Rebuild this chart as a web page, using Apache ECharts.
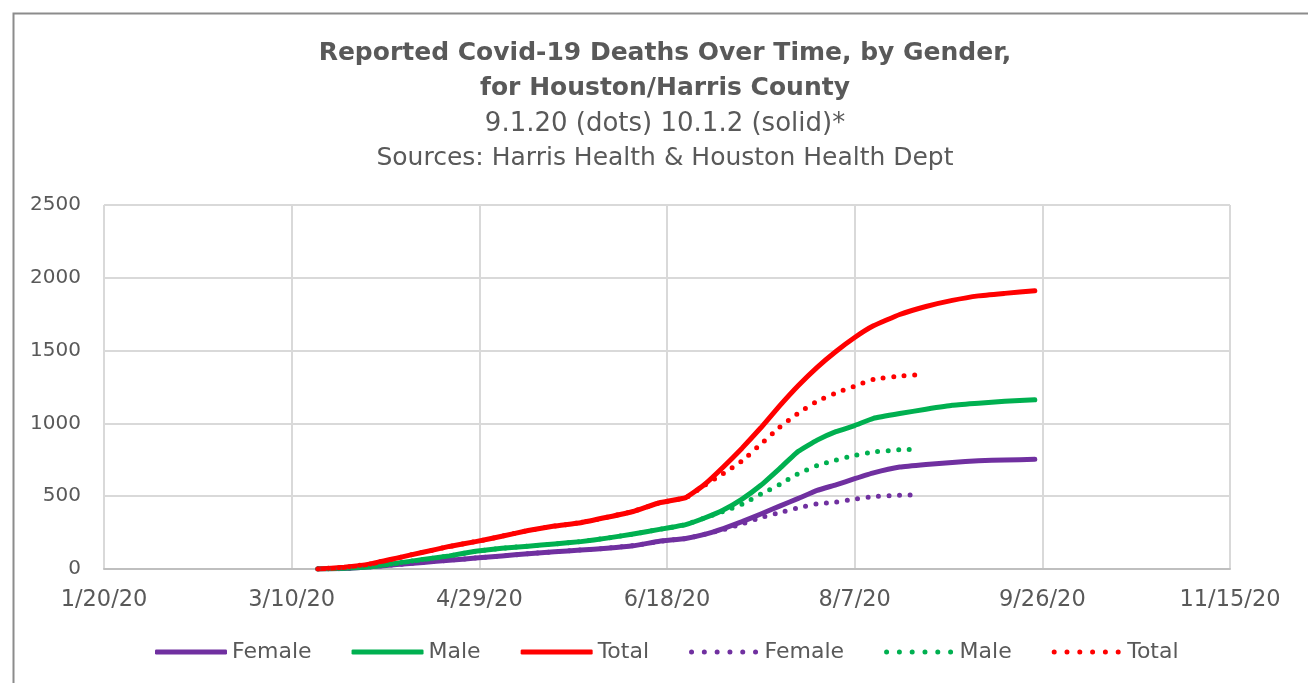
<!DOCTYPE html>
<html>
<head>
<meta charset="utf-8">
<script src="https://cdn.jsdelivr.net/npm/echarts@6/dist/echarts.min.js"></script>
<style>
  html, body { margin: 0; padding: 0; background: #fff; }
  #main { width: 1308px; height: 683px; }
</style>
</head>
<body>
<div id="main"></div>
<script>
// 10.1.20 report (solid lines)
const octDates = ['2020-03-17', '2020-03-24', '2020-03-31', '2020-04-07', '2020-04-14', '2020-04-21',
  '2020-04-28', '2020-05-05', '2020-05-12', '2020-05-19', '2020-05-26', '2020-06-02', '2020-06-09',
  '2020-06-16', '2020-06-23', '2020-06-28', '2020-07-03', '2020-07-08', '2020-07-13', '2020-07-18',
  '2020-07-23', '2020-07-28', '2020-08-02', '2020-08-07', '2020-08-12', '2020-08-19', '2020-08-26',
  '2020-09-02', '2020-09-09', '2020-09-16', '2020-09-24'];
const femaleOct = [0, 3, 15, 30, 45, 60, 75, 90, 105, 118, 130, 143, 160, 190, 210, 238, 278, 325, 378,
  432, 485, 540, 578, 620, 660, 700, 718, 732, 744, 749, 753];
const maleOct = [0, 5, 15, 40, 65, 90, 122, 143, 157, 172, 188, 212, 240, 272, 305, 350, 405, 480, 575,
  690, 808, 885, 943, 985, 1035, 1068, 1097, 1124, 1138, 1152, 1162];
const totalOct = [0, 12, 35, 75, 115, 155, 188, 225, 264, 295, 318, 355, 395, 455, 490, 580, 700, 830, 970,
  1120, 1260, 1385, 1494, 1590, 1670, 1748, 1803, 1845, 1876, 1893, 1911];

// 9.1.20 report (dotted lines)
const sepDates = ['2020-03-17', '2020-03-24', '2020-03-31', '2020-04-07', '2020-04-14', '2020-04-21',
  '2020-04-28', '2020-05-05', '2020-05-12', '2020-05-19', '2020-05-26', '2020-06-02', '2020-06-09',
  '2020-06-16', '2020-06-23', '2020-06-28', '2020-07-03', '2020-07-08', '2020-07-13', '2020-07-18',
  '2020-07-23', '2020-07-28', '2020-08-02', '2020-08-07', '2020-08-12', '2020-08-19', '2020-08-23'];
const femaleSep = [0, 3, 15, 30, 45, 60, 75, 90, 105, 118, 130, 143, 160, 190, 210, 238, 270, 310, 353,
  387, 421, 447, 460, 480, 497, 507, 509];
const maleSep = [0, 5, 15, 40, 65, 90, 122, 143, 157, 172, 188, 212, 240, 272, 305, 350, 395, 445, 514,
  580, 656, 710, 748, 780, 804, 819, 822];
const totalSep = [0, 12, 35, 75, 115, 155, 188, 225, 264, 295, 318, 355, 395, 455, 490, 575, 655, 742, 858,
  973, 1071, 1152, 1209, 1256, 1302, 1325, 1333];

// x axis: days since 1/20/20, ticks every 50 days
const xTicks = [0, 50, 100, 150, 200, 250, 300];

const FONT = 'DejaVu Sans';
const TEXT = '#595959';
const T0 = Date.UTC(2020, 0, 20);
const DAY = 86400000;

function toDay(s) {
  return (Date.parse(s + 'T00:00:00Z') - T0) / DAY;
}
function pairs(dates, vals) {
  return dates.map((d, i) => [toDay(d), vals[i]]);
}
function dayLabel(v) {
  const d = new Date(T0 + v * DAY);
  return (d.getUTCMonth() + 1) + '/' + d.getUTCDate() + '/' + String(d.getUTCFullYear()).slice(2);
}

// legend icon for the dotted series: a row of round dots in a 72x5 box
let dotPath = 'path://';
for (let i = 0; i < 6; i++) {
  const cx = 4 + i * 12.8, r = 2.5;
  dotPath += 'M' + (cx - r) + ',2.5a' + r + ',' + r + ' 0 1,0 ' + (2 * r) + ',0a' + r + ',' + r + ' 0 1,0 ' + (-2 * r) + ',0Z';
}

function solid(name, color, dates, vals) {
  return {
    name: name, type: 'line', symbol: 'none', smooth: 0.1,
    lineStyle: { color: color, width: 5, cap: 'round', join: 'round' },
    itemStyle: { color: color },
    data: pairs(dates, vals)
  };
}
function dotted(name, color, dates, vals) {
  return {
    name: name, type: 'line', symbol: 'none', smooth: 0.1,
    lineStyle: { color: color, width: 5, type: [0, 10.5], cap: 'round' },
    itemStyle: { color: color },
    data: pairs(dates, vals)
  };
}

const chart = echarts.init(document.getElementById('main'));
const option = {
  animation: false,
  backgroundColor: '#fff',
  textStyle: { fontFamily: FONT },
  graphic: [{
    type: 'rect', left: 11, top: 11, silent: true,
    shape: { width: 1320, height: 700 },
    style: { fill: 'none', stroke: '#8c8c8c', lineWidth: 2 }
  }],
  title: [{
    text: 'Reported Covid-19 Deaths Over Time, by Gender,\nfor Houston/Harris County',
    left: 660, top: 31, textAlign: 'center',
    textStyle: { fontFamily: FONT, fontSize: 25, fontWeight: 'bold', color: TEXT, lineHeight: 35 }
  }, {
    text: '9.1.20 (dots) 10.1.2 (solid)*',
    left: 660, top: 102, textAlign: 'center',
    textStyle: { fontFamily: FONT, fontSize: 26, fontWeight: 'normal', color: TEXT, lineHeight: 35 }
  }, {
    text: 'Sources: Harris Health & Houston Health Dept',
    left: 660, top: 136, textAlign: 'center',
    textStyle: { fontFamily: FONT, fontSize: 25, fontWeight: 'normal', color: TEXT, lineHeight: 35 }
  }],
  grid: { left: 104, right: 78, top: 205, bottom: 114 },
  legend: {
    left: 150, top: 636,
    itemWidth: 72, itemHeight: 5, itemGap: 40,
    formatter: n => n.trim(),
    textStyle: { fontFamily: FONT, fontSize: 22, color: TEXT },
    data: [
      { name: 'Female', icon: 'roundRect' },
      { name: 'Male', icon: 'roundRect' },
      { name: 'Total', icon: 'roundRect' },
      { name: 'Female ', icon: dotPath },
      { name: 'Male ', icon: dotPath },
      { name: 'Total ', icon: dotPath }
    ]
  },
  xAxis: {
    type: 'value', min: 0, max: 300, interval: 50,
    axisLine: { show: true, lineStyle: { color: '#bfbfbf', width: 2 } },
    axisTick: { show: false },
    splitLine: { show: true, lineStyle: { color: '#d9d9d9', width: 2 } },
    axisLabel: {
      margin: 20, fontFamily: FONT, fontSize: 22.5, color: TEXT,
      formatter: v => xTicks.indexOf(v) >= 0 ? dayLabel(v) : ''
    }
  },
  yAxis: {
    type: 'value', min: 0, max: 2500, interval: 500,
    axisLine: { show: false },
    axisTick: { show: false },
    splitLine: { show: true, lineStyle: { color: '#d9d9d9', width: 2 } },
    axisLabel: { margin: 23, fontFamily: FONT, fontSize: 20, color: TEXT, formatter: v => String(v) }
  },
  series: [
    solid('Female', '#7030a0', octDates, femaleOct),
    solid('Male', '#00b050', octDates, maleOct),
    solid('Total', '#ff0000', octDates, totalOct),
    dotted('Female ', '#7030a0', sepDates, femaleSep),
    dotted('Male ', '#00b050', sepDates, maleSep),
    dotted('Total ', '#ff0000', sepDates, totalSep)
  ]
};
chart.setOption(option);
</script>
</body>
</html>
